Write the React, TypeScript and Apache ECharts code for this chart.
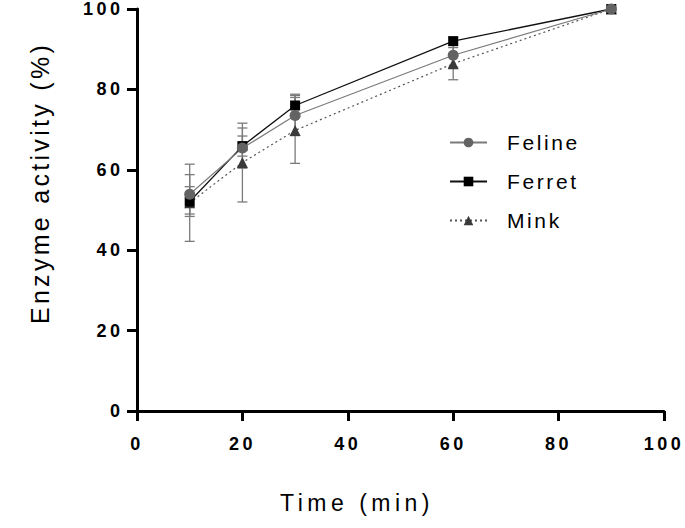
import React, { useEffect, useRef } from "react";
import * as echarts from "echarts";

// ---- data ----
const timePoints = [10, 20, 30, 60, 90];
const felineMean = [53.9, 65.4, 73.5, 88.5, 100];
const felineErr = [4.9, 5.0, 5.0, 3.0, 0];
const ferretMean = [52.1, 65.9, 76.0, 92.0, 100];
const ferretErr = [3.7, 2.5, 2.8, 1.0, 0];
const minkMean = [51.8, 61.8, 69.8, 86.4, 100];
const minkErr = [9.6, 9.8, 8.2, 4.0, 0];
const seriesNames = ["Feline", "Ferret", "Mink"];
const xAxisTitle = "Time (min)";
const yAxisTitle = "Enzyme activity (%)";

const FONT = "Liberation Sans";

function points(mean: number[]) {
  return timePoints.map((t, i) => [t, mean[i]]);
}
function errData(mean: number[], err: number[]) {
  return timePoints
    .map((t, i) => [t, mean[i] - err[i], mean[i] + err[i]])
    .filter((d, i) => err[i] > 0);
}

function errorSeries(name: string, mean: number[], err: number[], color: string) {
  return {
    type: "custom",
    name: name + " error",
    z: 1,
    silent: true,
    data: errData(mean, err),
    encode: { x: 0, y: [1, 2] },
    renderItem: (params: any, api: any) => {
      const x = api.value(0);
      const lo = api.coord([x, api.value(1)]);
      const hi = api.coord([x, api.value(2)]);
      const hw = 5;
      const style = { stroke: color, lineWidth: 1.3, fill: "none" };
      return {
        type: "group",
        children: [
          { type: "line", shape: { x1: hi[0], y1: hi[1], x2: lo[0], y2: lo[1] }, style },
          { type: "line", shape: { x1: hi[0] - hw, y1: hi[1], x2: hi[0] + hw, y2: hi[1] }, style },
          { type: "line", shape: { x1: lo[0] - hw, y1: lo[1], x2: lo[0] + hw, y2: lo[1] }, style },
        ],
      };
    },
  };
}

export default function App() {
  const ref = useRef<HTMLDivElement>(null);

  useEffect(() => {
    document.body.style.margin = "0";
    if (!ref.current) return;
    const chart = echarts.init(ref.current, undefined, { renderer: "svg" });
    const axisLine = { show: true, lineStyle: { color: "#000", width: 3 } };
    const axisTick = { show: true, length: 10, lineStyle: { color: "#000", width: 3 } };
    const axisLabelBase = {
      color: "#000",
      fontFamily: FONT,
      fontWeight: "bold" as const,
      fontSize: 18,
    };
    chart.setOption({
      animation: false,
      backgroundColor: "#fff",
      grid: { left: 137, right: 21, top: 6, bottom: 117, containLabel: false },
      xAxis: {
        type: "value",
        min: 0,
        max: 100,
        interval: 20,
        axisLine,
        axisTick,
        splitLine: { show: false },
        axisLabel: { ...axisLabelBase, margin: 24 },
      },
      yAxis: {
        type: "value",
        min: 0,
        max: 100,
        interval: 20,
        axisLine,
        axisTick,
        splitLine: { show: false },
        axisLabel: { ...axisLabelBase, margin: 13.5 },
      },
      legend: {
        data: seriesNames,
        orient: "vertical",
        left: 444,
        top: 127,
        itemWidth: 37,
        itemHeight: 12,
        itemGap: 18,
        textStyle: { fontSize: 21, fontFamily: FONT, color: "#000", padding: [0, 0, 0, 15] },
      },
      graphic: [
        {
          type: "text",
          x: 40,
          y: 183,
          rotation: Math.PI / 2,
          style: {
            text: yAxisTitle,
            fontSize: 25,
            fontFamily: FONT,
            fill: "#000",
            align: "center",
            verticalAlign: "middle",
          },
        },
        {
          type: "text",
          x: 357,
          y: 503,
          style: {
            text: xAxisTitle,
            fontSize: 23,
            fontFamily: FONT,
            fill: "#000",
            align: "center",
            verticalAlign: "middle",
          },
        },
      ],
      series: [
        errorSeries("Mink", minkMean, minkErr, "#7a7a7a"),
        errorSeries("Ferret", ferretMean, ferretErr, "#7a7a7a"),
        errorSeries("Feline", felineMean, felineErr, "#7a7a7a"),
        {
          type: "line",
          name: "Mink",
          z: 2,
          data: points(minkMean),
          symbol: "triangle",
          symbolSize: 11,
          itemStyle: { color: "#3a3a3a" },
          lineStyle: { color: "#555", width: 1.2, type: [2, 3] },
        },
        {
          type: "line",
          name: "Ferret",
          z: 3,
          data: points(ferretMean),
          symbol: "rect",
          symbolSize: 10,
          itemStyle: { color: "#000" },
          lineStyle: { color: "#111", width: 1.3 },
        },
        {
          type: "line",
          name: "Feline",
          z: 4,
          data: points(felineMean),
          symbol: "circle",
          symbolSize: 11,
          itemStyle: { color: "#636363" },
          lineStyle: { color: "#7a7a7a", width: 1.2 },
        },
      ],
    });
    return () => chart.dispose();
  }, []);

  return (
    <>
      <style>{`
        .chart-host text[style*="18px"] { letter-spacing: 3.5px; }
        .chart-host text[style*="21px"] { letter-spacing: 2.6px; }
        .chart-host text[style*="25px"] { letter-spacing: 3.3px; }
        .chart-host text[style*="23px"] { letter-spacing: 4.5px; }
      `}</style>
      <div className="chart-host" ref={ref} style={{ width: 685, height: 528 }} />
    </>
  );
}
